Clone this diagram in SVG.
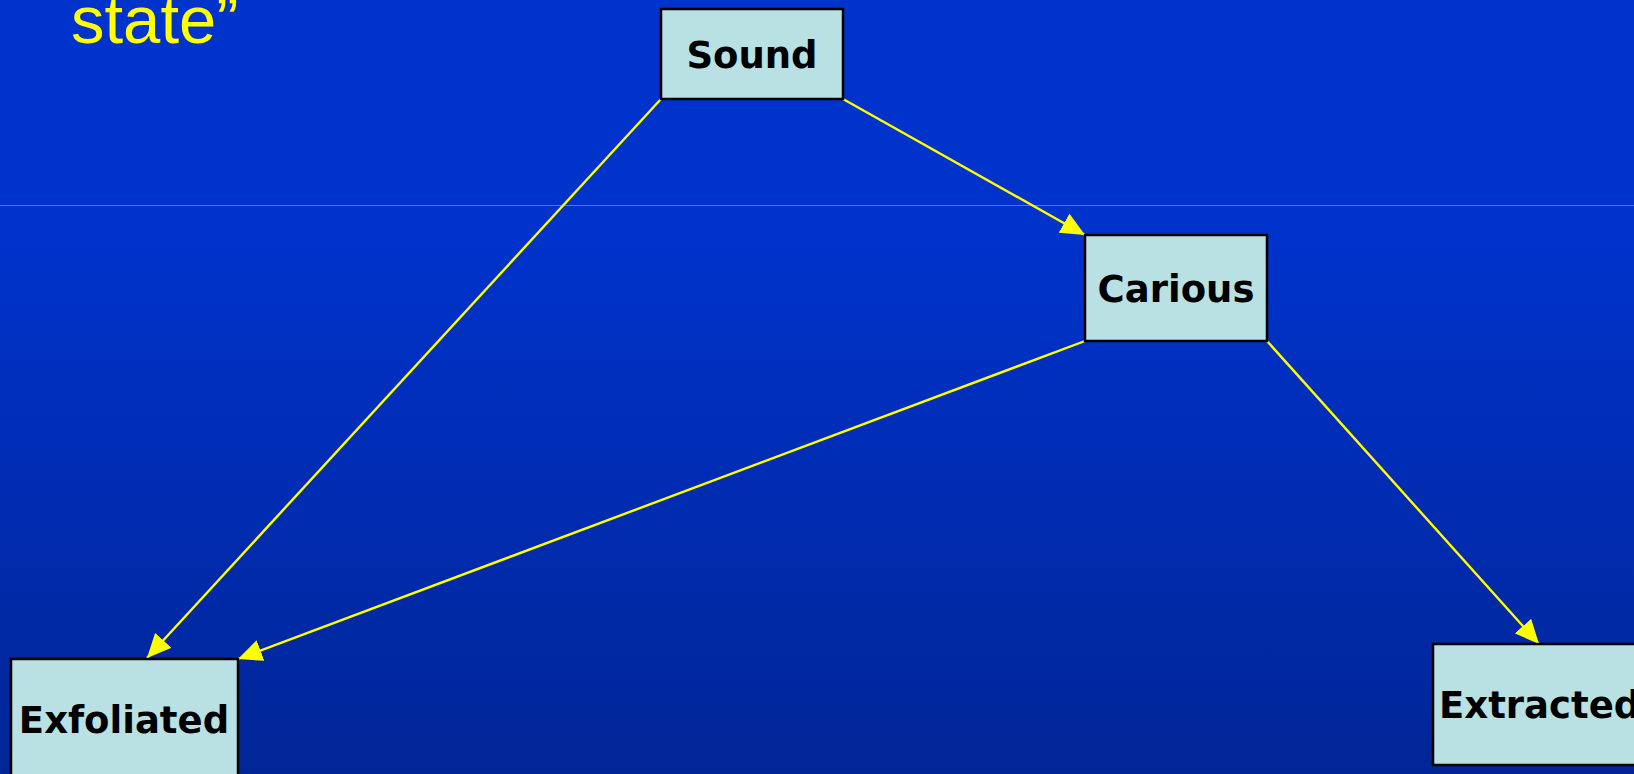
<svg xmlns="http://www.w3.org/2000/svg" width="1634" height="774" viewBox="0 0 1634 774">
<defs>
<linearGradient id="bg" x1="0" y1="0" x2="0" y2="1">
<stop offset="0" stop-color="#0033cc"/>
<stop offset="0.3" stop-color="#0033cc"/>
<stop offset="1" stop-color="#002596"/>
</linearGradient>
<marker id="ah" markerUnits="userSpaceOnUse" markerWidth="26" markerHeight="22" refX="24" refY="11" orient="auto">
<path d="M0,0 L24,11 L0,22 Z" fill="#ffff00"/>
</marker>
<style>
.box{fill:#b9e0e2;stroke:#000;stroke-width:2.5}
.lbl{font-family:"DejaVu Sans",Verdana,sans-serif;font-weight:bold;font-size:37px;fill:#000}
.edge{stroke:#ffff00;stroke-width:2.4;fill:none;marker-end:url(#ah)}
</style>
</defs>
<rect x="0" y="0" width="1634" height="774" fill="url(#bg)"/>
<line x1="0" y1="205.5" x2="1634" y2="205.5" stroke="#4f73e6" stroke-width="1"/>
<text x="71" y="43" font-family="'Liberation Sans',Arial,sans-serif" font-size="67" fill="#ffff00">state”</text>
<g id="connectors">
<line class="edge" x1="661" y1="99" x2="147" y2="658"/>
<line class="edge" x1="843" y1="99" x2="1085" y2="235"/>
<line class="edge" x1="1085" y1="341" x2="238" y2="659"/>
<line class="edge" x1="1267" y1="341" x2="1539" y2="644"/>
</g>
<g id="sound">
<rect class="box" x="661" y="9" width="182" height="90"/>
<text class="lbl" x="752" y="68" text-anchor="middle">Sound</text>
</g>
<g id="carious">
<rect class="box" x="1085" y="235" width="182" height="106"/>
<text class="lbl" x="1176" y="302" text-anchor="middle">Carious</text>
</g>
<g id="exfoliated">
<rect class="box" x="11" y="659" width="227" height="130"/>
<text class="lbl" x="124" y="733" text-anchor="middle">Exfoliated</text>
</g>
<g id="extracted">
<rect class="box" x="1433" y="644" width="220" height="121"/>
<text class="lbl" x="1439" y="718">Extracted</text>
</g>
</svg>
